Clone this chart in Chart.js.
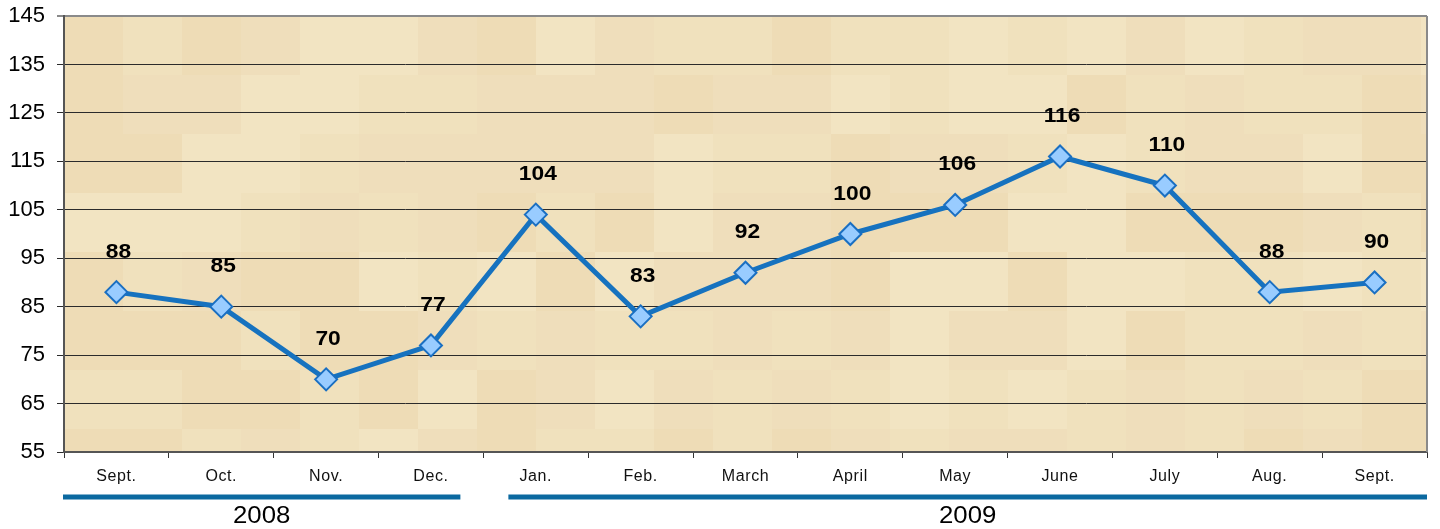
<!DOCTYPE html>
<html><head><meta charset="utf-8">
<style>html,body{margin:0;padding:0;background:#fff}#wrap{width:1440px;height:529px;position:relative}</style>
<script src="https://cdn.jsdelivr.net/npm/chart.js@4/dist/chart.umd.min.js"></script>
</head><body><div id="wrap"><canvas id="c" width="1440" height="529"></canvas></div>
<script>
const months = ["Sept.","Oct.","Nov.","Dec.","Jan.","Feb.","March","April","May","June","July","Aug.","Sept."];
const values = [88,85,70,77,104,83,92,100,106,116,110,88,90];
const yearLabels = ["2008","2009"];
const yearFirstIndex = [0,4];
const yearLastIndex = [3,12];
const yMin = 55, yMax = 145, yStep = 10;

const FONT = "'Liberation Sans', Arial, sans-serif";

const bgPlugin = {
  id: 'bg',
  beforeDraw(chart) {
    const {ctx, chartArea: a} = chart;
    ctx.save();
    ctx.beginPath();
    ctx.rect(a.left, a.top, a.right - a.left, a.bottom - a.top);
    ctx.clip();
    ctx.fillStyle = '#f0e1bd';
    ctx.fillRect(a.left, a.top, a.right - a.left, a.bottom - a.top);
    const tile = 59;
    const cols = ['rgba(232,208,165,0.28)','rgba(247,236,206,0.3)','rgba(236,214,182,0.28)','rgba(242,228,192,0.15)'];
    for (let i = 0; a.left + i * tile < a.right; i++) {
      for (let j = 0; a.top + j * tile < a.bottom; j++) {
        const t = Math.sin(i * 12.9898 + j * 78.233) * 43758.5453;
        const f = t - Math.floor(t);
        ctx.fillStyle = cols[Math.floor(f * 4)];
        ctx.fillRect(a.left + i * tile, a.top + j * tile, tile, tile);
      }
    }
    ctx.restore();
  },
  afterDraw(chart) {
    const {ctx, chartArea: a} = chart;
    ctx.save();
    ctx.strokeStyle = '#8a8a8a';
    ctx.lineWidth = 2;
    ctx.beginPath(); ctx.moveTo(a.right, a.top); ctx.lineTo(a.right, a.bottom); ctx.stroke();
    ctx.restore();
  }
};

const labelPlugin = {
  id: 'dl',
  afterDatasetsDraw(chart) {
    const {ctx} = chart;
    const meta = chart.getDatasetMeta(0);
    ctx.save();
    ctx.font = "bold 20px " + FONT;
    ctx.fillStyle = '#000';
    ctx.textAlign = 'center';
    ctx.textBaseline = 'middle';
    meta.data.forEach((p, i) => {
      ctx.save();
      ctx.translate(p.x + 2, p.y - 40);
      ctx.scale(1.14, 1);
      ctx.fillText(String(values[i]), 0, 0);
      ctx.restore();
    });
    ctx.restore();
  }
};

const axisTextPlugin = {
  id: 'axisText',
  afterDraw(chart) {
    const {ctx} = chart;
    const xs = chart.scales.x;
    ctx.save();
    ctx.fillStyle = '#111';
    ctx.font = "16px " + FONT;
    ctx.textAlign = 'center';
    ctx.textBaseline = 'middle';
    try { ctx.letterSpacing = '0.6px'; } catch (e) {}
    months.forEach((m, i) => {
      ctx.fillText(m, xs.getPixelForValue(i), 477);
    });
    try { ctx.letterSpacing = '0px'; } catch (e) {}
    const half = (xs.getPixelForValue(1) - xs.getPixelForValue(0)) / 2;
    const insets = [[-1, 23], [25, 0]];
    yearLabels.forEach((lab, k) => {
      const l = xs.getPixelForValue(yearFirstIndex[k]) - half + insets[k][0];
      const r = xs.getPixelForValue(yearLastIndex[k]) + half - insets[k][1];
      ctx.fillStyle = '#0b69a0';
      ctx.fillRect(l, 494.5, r - l, 5);
      ctx.fillStyle = '#000';
      ctx.font = "23px " + FONT;
      ctx.save();
      ctx.translate((l + r) / 2, 517);
      ctx.scale(1.12, 1);
      ctx.fillText(lab, 0, 0);
      ctx.restore();
    });
    ctx.restore();
  }
};

new Chart(document.getElementById('c'), {
  type: 'line',
  data: {
    labels: months,
    datasets: [{
      data: values,
      borderColor: '#1672bf',
      borderWidth: 5,
      tension: 0,
      pointStyle: 'rectRot',
      pointRadius: 11,
      pointHoverRadius: 11,
      pointBackgroundColor: '#99ccff',
      pointBorderColor: '#1a6fc2',
      pointBorderWidth: 2
    }]
  },
  options: {
    responsive: false,
    devicePixelRatio: 1,
    animation: false,
    events: [],
    layout: { padding: { top: 16, right: 3, left: 0, bottom: 0 } },
    plugins: { legend: { display: false }, tooltip: { enabled: false } },
    scales: {
      x: {
        type: 'category',
        offset: true,
        grid: { offset: true, drawOnChartArea: false, tickLength: 6, color: '#333', lineWidth: 1 },
        border: { color: '#555', width: 2 },
        ticks: { display: false },
        afterFit(s) { s.height = 77; s.paddingLeft = 0; s.paddingRight = 0; }
      },
      y: {
        min: yMin, max: yMax,
        grid: {
          color: c => (c.tick && c.tick.value === yMax) ? '#8a8a8a' : '#2b2b2b',
          lineWidth: c => (c.tick && c.tick.value === yMax) ? 2 : 1,
          tickLength: 7
        },
        border: { color: '#555', width: 2 },
        ticks: { stepSize: yStep, color: '#000', font: { family: FONT, size: 22 }, padding: 12 },
        afterFit(s) { s.width = 64; s.paddingTop = 0; s.paddingBottom = 0; }
      }
    }
  },
  plugins: [bgPlugin, labelPlugin, axisTextPlugin]
});
</script></body></html>
